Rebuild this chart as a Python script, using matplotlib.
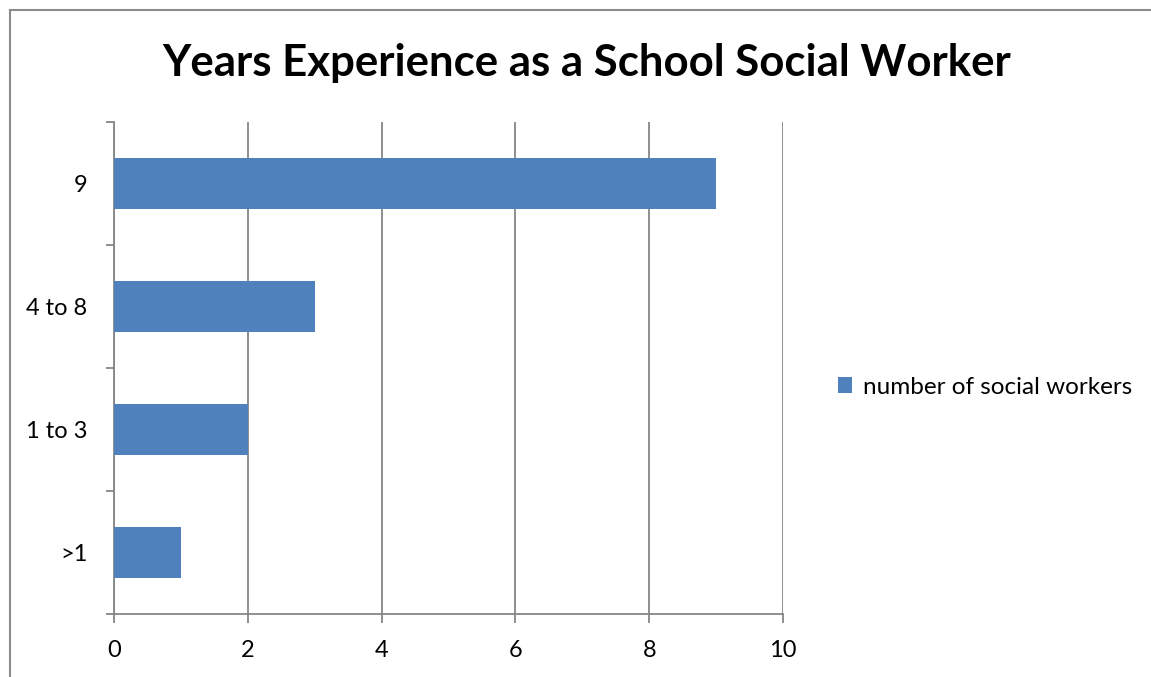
import matplotlib.pyplot as plt
from matplotlib.lines import Line2D
from matplotlib.patches import Patch

categories = ['>1', '1 to 3', '4 to 8', '9']
counts = [1, 2, 3, 9]
series_name = 'number of social workers'
title = 'Years Experience as a School Social Worker'

plt.rcParams['font.family'] = ['Lato', 'DejaVu Sans']
bar_color = '#4F81BD'
grid_color = '#868686'

fig = plt.figure(figsize=(11.51, 6.77), dpi=100)
ax = fig.add_axes([114 / 1151, 1 - 614 / 677, (783 - 114) / 1151, (614 - 122) / 677])

ax.barh(range(len(categories)), counts, height=0.41, color=bar_color, zorder=3)

ax.set_xlim(0, 10)
ax.set_xticks([0, 2, 4, 6, 8, 10])
ax.set_ylim(-0.5, len(categories) - 0.5)
ax.set_yticks([i - 0.5 for i in range(len(categories) + 1)], minor=False)
ax.set_yticklabels([])
ax.set_yticks(range(len(categories)), minor=True)
ax.set_yticklabels(categories, minor=True)
ax.tick_params(axis='y', which='major', length=6, color=grid_color, width=1.3)
ax.tick_params(axis='y', which='minor', length=0, pad=19, labelsize=17)
ax.tick_params(axis='x', length=6.5, color=grid_color, width=1.3, labelsize=17, pad=12)
ax.grid(axis='x', color=grid_color, linewidth=1.3, zorder=0)

for side in ['top', 'right']:
    ax.spines[side].set_visible(False)
for side in ['left', 'bottom']:
    ax.spines[side].set_color(grid_color)
    ax.spines[side].set_linewidth(1.3)

fig.text(587 / 1151, 1 - 63 / 677, title, ha='center', va='center',
         fontsize=31.5, fontweight='bold')

handle = Patch(facecolor=bar_color, edgecolor='none')
fig.legend([handle], [series_name], loc='center left',
           bbox_to_anchor=(816 / 1151, 1 - 387 / 677), frameon=False,
           fontsize=17.5, handlelength=0.6, handleheight=0.6, handletextpad=0.45)

# chart border (only the left and top edges show in the crop)
fig.add_artist(Line2D([10 / 1151, 10 / 1151], [0, 1 - 10 / 677], color='#8c8c8c',
                      linewidth=1.5, transform=fig.transFigure))
fig.add_artist(Line2D([10 / 1151, 1], [1 - 10 / 677, 1 - 10 / 677], color='#8c8c8c',
                      linewidth=1.5, transform=fig.transFigure))

fig.savefig('out.png', dpi=100)
